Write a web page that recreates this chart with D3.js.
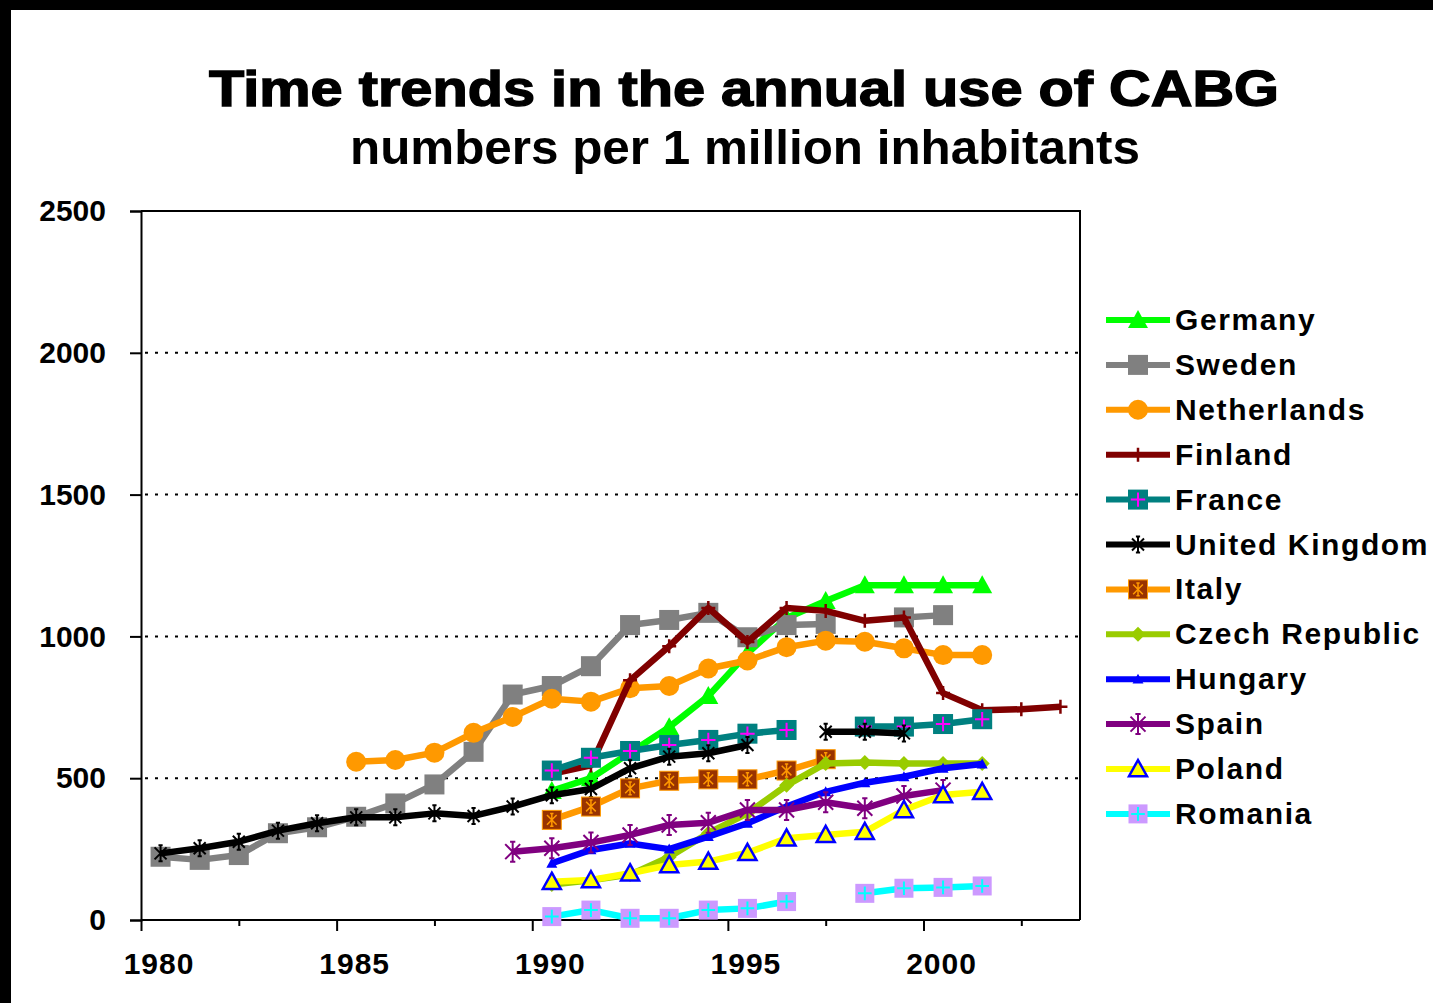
<!DOCTYPE html>
<html>
<head>
<meta charset="utf-8">
<script src="https://cdn.jsdelivr.net/npm/d3@7"></script>
<style>
  body { margin: 0; background: #fff; }
  text { font-family: "Liberation Sans", Arial, sans-serif; font-weight: bold; }
</style>
</head>
<body>
<div id="chart"></div>
<script>
// years on the category axis
const years = [1980, 1981, 1982, 1983, 1984, 1985, 1986, 1987, 1988, 1989, 1990, 1991,
  1992, 1993, 1994, 1995, 1996, 1997, 1998, 1999, 2000, 2001, 2002, 2003];
const yTicks = [0, 500, 1000, 1500, 2000, 2500];
const xLabels = [1980, 1985, 1990, 1995, 2000];

const countries = ["Germany", "Sweden", "Netherlands", "Finland", "France", "United Kingdom",
  "Italy", "Czech Republic", "Hungary", "Spain", "Poland", "Romania"];

const _ = null;
//                1980 ..................................................... 1989 | 1990 ............................................................ 2003
const germany     = [_, _, _, _, _, _, _, _, _, _, 455, 500, 590, 680, 790, 940, 1065, 1125, 1180, 1180, 1180, 1180, _, _];
const sweden      = [223, 212, 229, 306, 327, 364, 411, 478, 593, 795, 825, 895, 1040, 1058, 1083, 997, 1040, 1044, _, 1067, 1075, _, _, _];
const netherlands = [_, _, _, _, _, 558, 564, 590, 660, 716, 780, 770, 817, 825, 887, 915, 962, 985, 981, 958, 934, 934, _, _];
const finland     = [_, _, _, _, _, _, _, _, _, _, 515, 545, 845, 965, 1100, 980, 1100, 1090, 1055, 1067, 800, 740, 743, 752];
const france      = [_, _, _, _, _, _, _, _, _, _, 527, 572, 596, 617, 635, 657, 670, _, 682, 682, 691, 708, _, _];
const uk          = [235, 253, 276, 315, 341, 362, 362, 376, 367, 400, 440, 462, 535, 576, 588, 617, _, 664, 664, 658, _, _, _, _];
const italy       = [_, _, _, _, _, _, _, _, _, _, 353, 400, 464, 491, 496, 496, 527, 567, _, _, _, _, _, _];
const czech       = [_, _, _, _, _, _, _, _, _, _, 125, 140, 160, 222, 306, 376, 475, 552, 555, 552, 552, 552, _, _];
const hungary     = [_, _, _, _, _, _, _, _, _, _, 200, 247, 270, 250, 294, 341, 400, 452, 484, 505, 535, 550, _, _];
const spain       = [_, _, _, _, _, _, _, _, _, 241, 253, 273, 300, 335, 343, 388, 388, 415, 394, 437, 458, _, _, _];
const poland      = [_, _, _, _, _, _, _, _, _, _, 135, 141, 165, 194, 206, 237, 288, 300, 311, 388, 441, 452, _, _];
const romania     = [_, _, _, _, _, _, _, _, _, _, 12, 35, 6, 6, 35, 41, 65, _, 94, 112, 115, 120, _, _];

const values = [germany, sweden, netherlands, finland, france, uk, italy, czech, hungary, spain, poland, romania];

// line colour and marker style for each country, same order
const styles = [
  { line: "#00ff00", mk: "triangle", fill: "#00ff00", size: 20 },
  { line: "#808080", mk: "square", fill: "#808080", size: 20 },
  { line: "#ff9900", mk: "circle", fill: "#ff9900", size: 20 },
  { line: "#800000", mk: "plus", stroke: "#800000", size: 14 },
  { line: "#008080", mk: "square", fill: "#008080", inner: "plus", innerColor: "#ff00ff", size: 20 },
  { line: "#000000", mk: "star", stroke: "#000000", size: 16 },
  { line: "#ff9900", mk: "square", fill: "#993300", border: "#ff9900", inner: "star", innerColor: "#ff9900", size: 19 },
  { line: "#99cc00", mk: "diamond", fill: "#99cc00", size: 15 },
  { line: "#0000ff", mk: "triangle", fill: "#0000ff", size: 11 },
  { line: "#800080", mk: "star", stroke: "#800080", size: 20 },
  { line: "#ffff00", mk: "triangle", fill: "#ffff00", border: "#0000ff", size: 18 },
  { line: "#00ffff", mk: "square", fill: "#cc99ff", inner: "plus", innerColor: "#00ffff", size: 19 }
];

const W = 1433, H = 1003;
const plotL = 141, plotR = 1080, plotT = 211, plotB = 920;

const svg = d3.select("#chart").append("svg")
  .attr("width", W).attr("height", H);

// black frame at top and left
svg.append("rect").attr("x", 0).attr("y", 0).attr("width", W).attr("height", 10).attr("fill", "#000");
svg.append("rect").attr("x", 0).attr("y", 0).attr("width", 11).attr("height", H).attr("fill", "#000");

svg.append("text")
  .attr("x", 744).attr("y", 106)
  .attr("text-anchor", "middle")
  .attr("textLength", 1070).attr("lengthAdjust", "spacingAndGlyphs")
  .style("font-size", "50px")
  .style("stroke", "#000").style("stroke-width", 1.4)
  .text("Time trends in the annual use of CABG");

svg.append("text")
  .attr("x", 745).attr("y", 164)
  .attr("text-anchor", "middle")
  .attr("textLength", 790).attr("lengthAdjust", "spacingAndGlyphs")
  .style("font-size", "48px")
  .text("numbers per 1 million inhabitants");

const x = d3.scaleLinear().domain([1979.5, 2003.5]).range([plotL, plotR]);
const y = d3.scaleLinear().domain([0, 2500]).range([plotB, plotT]);

// dotted grid
svg.append("g")
  .selectAll("line")
  .data(yTicks.filter(d => d > 0 && d < 2500))
  .join("line")
  .attr("x1", plotL + 4).attr("x2", plotR - 2)
  .attr("y1", d => y(d)).attr("y2", d => y(d))
  .attr("stroke", "#000").attr("stroke-width", 2)
  .attr("stroke-dasharray", "3,7");

// plot frame top/right
svg.append("path")
  .attr("d", `M${plotL},${plotT}H${plotR}V${plotB}`)
  .attr("fill", "none").attr("stroke", "#000").attr("stroke-width", 2);

// y axis
const yAxis = svg.append("g")
  .attr("transform", `translate(${plotL},0)`)
  .call(d3.axisLeft(y).tickValues(yTicks).tickSize(11).tickPadding(24).tickFormat(d3.format("d")));
yAxis.selectAll("path, line").attr("stroke", "#000").attr("stroke-width", 2);
yAxis.selectAll("text")
  .style("font-size", "30px").style("font-family", '"Liberation Sans", Arial, sans-serif')
  .style("font-weight", "bold").attr("fill", "#000");

// x axis: long ticks every five years, short ticks halfway
const xMajor = svg.append("g")
  .attr("transform", `translate(0,${plotB})`)
  .call(d3.axisBottom(x).tickValues([1979.5, 1984.5, 1989.5, 1994.5, 1999.5])
    .tickSize(11).tickSizeOuter(0).tickFormat(""));
xMajor.select("path").attr("d", `M${plotL},0H${plotR}`);
xMajor.selectAll("path, line").attr("stroke", "#000").attr("stroke-width", 2);

const xMinor = svg.append("g")
  .attr("transform", `translate(0,${plotB})`)
  .call(d3.axisBottom(x).tickValues([1982, 1987, 1992, 1997, 2002]).tickSize(6).tickFormat(""));
xMinor.select("path").remove();
xMinor.selectAll("line").attr("stroke", "#000").attr("stroke-width", 2);

const xText = svg.append("g")
  .attr("transform", `translate(-2,${plotB})`)
  .call(d3.axisBottom(x).tickValues(xLabels).tickSize(0).tickPadding(33).tickFormat(d3.format("d")));
xText.select("path").remove();
xText.selectAll("text")
  .style("font-size", "30px").style("font-family", '"Liberation Sans", Arial, sans-serif')
  .style("font-weight", "bold").style("letter-spacing", "1px").attr("fill", "#000");

function drawMarker(g, st) {
  const s = st.size, h = s / 2;
  if (st.mk === "square") {
    g.append("rect").attr("x", -h).attr("y", -h).attr("width", s).attr("height", s)
      .attr("fill", st.fill).attr("stroke", st.border || "none").attr("stroke-width", 1);
  } else if (st.mk === "circle") {
    g.append("circle").attr("r", h).attr("fill", st.fill);
  } else if (st.mk === "triangle") {
    g.append("path").attr("d", `M0,${-s * 0.5}L${h},${s * 0.4}L${-h},${s * 0.4}Z`)
      .attr("fill", st.fill).attr("stroke", st.border || "none").attr("stroke-width", 2.5);
  } else if (st.mk === "diamond") {
    g.append("path").attr("d", `M0,${-h}L${h},0L0,${h}L${-h},0Z`).attr("fill", st.fill);
  } else if (st.mk === "plus") {
    g.append("path").attr("d", `M${-h},0H${h}M0,${-h}V${h}`)
      .attr("stroke", st.stroke).attr("stroke-width", 2.5);
  } else if (st.mk === "star") {
    drawStar(g, h, st.stroke, 2);
  }
  if (st.inner === "plus") {
    const r = s * 0.36;
    g.append("path").attr("d", `M${-r},0H${r}M0,${-r}V${r}`)
      .attr("stroke", st.innerColor).attr("stroke-width", 2);
  } else if (st.inner === "star") {
    drawStar(g, s * 0.34, st.innerColor, 1.5);
  }
}

function drawStar(g, r, color, w) {
  const d = r * 0.75;
  g.append("path")
    .attr("d", `M0,${-r}V${r}M${-d},${-d}L${d},${d}M${-d},${d}L${d},${-d}` +
      `M${-d * 0.35},${-r}H${d * 0.35}M${-d * 0.35},${r}H${d * 0.35}`)
    .attr("stroke", color).attr("stroke-width", w).attr("fill", "none");
}

const line = d3.line()
  .defined(d => d[1] != null)
  .x(d => x(d[0]))
  .y(d => y(d[1]));

values.forEach((vals, i) => {
  const st = styles[i];
  const pts = years.map((yr, j) => [yr, vals[j]]);
  const g = svg.append("g");
  g.append("path")
    .datum(pts)
    .attr("fill", "none")
    .attr("stroke", st.line)
    .attr("stroke-width", 6.5)
    .attr("stroke-linejoin", "round")
    .attr("d", line);
  pts.filter(d => d[1] != null).forEach(d => {
    drawMarker(g.append("g").attr("transform", `translate(${x(d[0])},${y(d[1])})`), st);
  });
});

// legend
const legend = svg.append("g");
countries.forEach((name, i) => {
  const ly = 320 + i * 44.9;
  const st = styles[i];
  const g = legend.append("g").attr("transform", `translate(0,${ly})`);
  g.append("line").attr("x1", 1106).attr("x2", 1170).attr("y1", 0).attr("y2", 0)
    .attr("stroke", st.line).attr("stroke-width", 6);
  drawMarker(g.append("g").attr("transform", "translate(1138,0)"), st);
  g.append("text")
    .attr("x", 1175).attr("y", 10)
    .style("font-size", "30px").style("letter-spacing", "1.6px")
    .text(name);
});
</script>
</body>
</html>
